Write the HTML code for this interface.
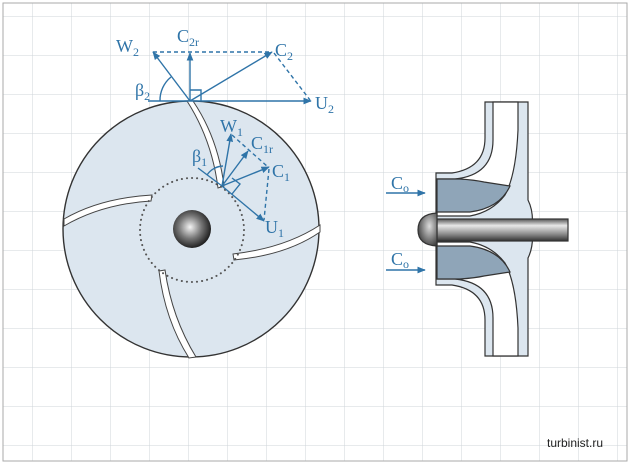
<!DOCTYPE html>
<html><head><meta charset="utf-8"><style>
html,body{margin:0;padding:0;background:#fff}
svg{display:block}
text{font-family:"Liberation Serif",serif;fill:#2f74a8}
</style></head><body>
<svg width="630" height="464" viewBox="0 0 630 464" xmlns="http://www.w3.org/2000/svg">
<defs>
<pattern id="g" x="32" y="16" width="39" height="39" patternUnits="userSpaceOnUse">
<path d="M0 0V39M0 0H39" stroke="#cfd4da" stroke-width="1" fill="none"/>
</pattern>
<radialGradient id="ball" cx="0.45" cy="0.45" r="0.6">
<stop offset="0" stop-color="#f4f4f4"/><stop offset="0.5" stop-color="#777"/><stop offset="1" stop-color="#111"/>
</radialGradient>
<linearGradient id="shaft" x1="0" y1="0" x2="0" y2="1">
<stop offset="0" stop-color="#555"/><stop offset="0.3" stop-color="#e8e8e8"/><stop offset="0.7" stop-color="#888"/><stop offset="1" stop-color="#333"/>
</linearGradient>
<radialGradient id="nose" cx="0.6" cy="0.4" r="0.7">
<stop offset="0" stop-color="#ddd"/><stop offset="1" stop-color="#333"/>
</radialGradient>
<marker id="a" viewBox="0 0 10 10" refX="9" refY="5" markerWidth="6" markerHeight="6" orient="auto"><path d="M0 1L10 5L0 9z" fill="#2f74a8"/></marker>
</defs>
<rect width="630" height="464" fill="#fff"/>
<rect x="3" y="3" width="624" height="458" fill="url(#g)" stroke="#aaa"/>

<circle cx="191" cy="229" r="128" fill="#dce6ef" stroke="#333" stroke-width="1.4"/>
<g fill="#fff" stroke="#444" stroke-width="1">
<path d="M187 101 Q212 140 218 188 L224 186 Q218 138 193 101Z"/>
<path d="M64 219 Q100 198 152 195 L151 201 Q102 204 64 226Z"/>
<path d="M159 271 Q165 320 189 358 L196 357 Q172 318 165 270Z"/>
<path d="M320 225 Q285 248 233 254 L234 260 Q287 255 320 232Z"/>
</g>
<circle cx="192" cy="230" r="52" fill="none" stroke="#555" stroke-width="2" stroke-linecap="round" stroke-dasharray="0.1 5"/>
<circle cx="192" cy="229" r="19" fill="url(#ball)"/>

<g stroke="#2f74a8" stroke-width="1.4" fill="none">
<line x1="148" y1="101" x2="190" y2="101"/>
<line x1="190" y1="101" x2="311" y2="101" marker-end="url(#a)"/>
<line x1="190" y1="101" x2="153" y2="52" marker-end="url(#a)"/>
<line x1="190" y1="101" x2="190" y2="53" marker-end="url(#a)"/>
<line x1="190" y1="101" x2="272" y2="52" marker-end="url(#a)"/>
<line x1="153" y1="52" x2="270" y2="52" stroke-dasharray="4 3"/>
<line x1="274" y1="53" x2="310" y2="100" stroke-dasharray="4 3"/>
<path d="M190 90 H201 V101"/>
<path d="M160 101 A30 30 0 0 1 171 77"/>
<line x1="198" y1="168" x2="222" y2="186"/>
<line x1="222" y1="186" x2="264" y2="221" marker-end="url(#a)"/>
<line x1="222" y1="186" x2="231" y2="134" marker-end="url(#a)"/>
<line x1="222" y1="186" x2="248" y2="151" marker-end="url(#a)"/>
<line x1="222" y1="186" x2="269" y2="167" marker-end="url(#a)"/>
<line x1="232" y1="135" x2="268" y2="167" stroke-dasharray="4 3"/>
<line x1="269" y1="169" x2="264" y2="220" stroke-dasharray="4 3"/>
<path d="M207 175 A20 20 0 0 1 223 166"/>
<path d="M232 194 L240 184 L232 178"/>
</g>
<g font-size="18">
<text x="116" y="52">W<tspan font-size="12" dy="4">2</tspan></text>
<text x="177" y="42">C<tspan font-size="12" dy="4">2r</tspan></text>
<text x="275" y="56">C<tspan font-size="12" dy="4">2</tspan></text>
<text x="135" y="96">β<tspan font-size="12" dy="4">2</tspan></text>
<text x="315" y="109">U<tspan font-size="12" dy="4">2</tspan></text>
<text x="220" y="132">W<tspan font-size="12" dy="4">1</tspan></text>
<text x="251" y="149">C<tspan font-size="12" dy="4">1r</tspan></text>
<text x="272" y="177">C<tspan font-size="12" dy="4">1</tspan></text>
<text x="192" y="162">β<tspan font-size="12" dy="4">1</tspan></text>
<text x="265" y="233">U<tspan font-size="12" dy="4">1</tspan></text>
<text x="391" y="189">C<tspan font-size="12" dy="3">o</tspan></text>
<text x="391" y="265">C<tspan font-size="12" dy="3">o</tspan></text>
</g>
<line x1="386" y1="193" x2="425" y2="193" stroke="#2f74a8" stroke-width="1.4" marker-end="url(#a)"/>
<line x1="386" y1="270" x2="425" y2="270" stroke="#2f74a8" stroke-width="1.4" marker-end="url(#a)"/>

<g stroke="#333" stroke-width="1.2">
<path d="M485 102 H528 V200 Q534 212 532 229 Q534 246 528 258 V356 H485 V320 Q485 290 452 285 H436 V173 H452 Q485 168 485 138Z" fill="#dce6ef"/>
<path d="M493 102 H518 V130 Q516 175 505 195 Q492 212 470 216 H437 V179 H455 Q493 175 493 140Z" fill="#fff"/>
<path d="M493 356 H518 V328 Q516 283 505 263 Q492 246 470 242 H437 V279 H455 Q493 283 493 318Z" fill="#fff"/>
<path d="M437 179 H460 Q475 180 484 182 L510 186 Q500 208 470 212 L437 212Z" fill="#8fa5b8"/>
<path d="M437 279 H460 Q475 278 484 276 L510 272 Q500 250 470 246 L437 246Z" fill="#8fa5b8"/>
<rect x="437" y="219" width="131" height="22" fill="url(#shaft)"/>
<path d="M437 213 Q418 214 418 230 Q418 245 437 246Z" fill="url(#nose)"/>
</g>
<text x="547" y="447" font-size="12" style="font-family:'Liberation Sans',sans-serif;fill:#222">turbinist.ru</text>
</svg>
</body></html>
